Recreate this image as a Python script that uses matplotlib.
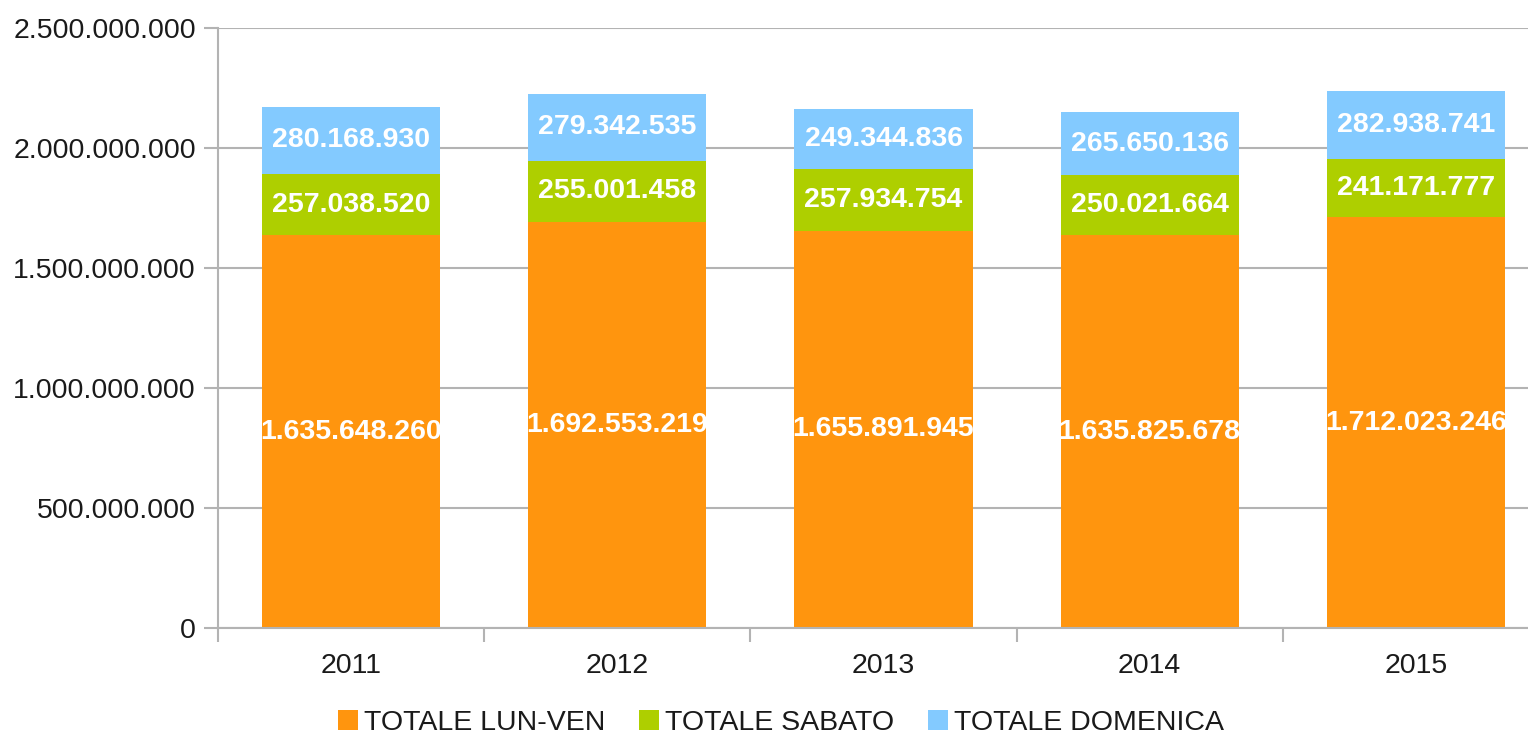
import matplotlib.pyplot as plt
from matplotlib.ticker import FuncFormatter, FixedLocator

plt.rcParams['font.family'] = ['Liberation Sans', 'DejaVu Sans']

years = ["2011", "2012", "2013", "2014", "2015"]
lun_ven = [1635648260, 1692553219, 1655891945, 1635825678, 1712023246]
sabato = [257038520, 255001458, 257934754, 250021664, 241171777]
domenica = [280168930, 279342535, 249344836, 265650136, 282938741]

series_names = ["TOTALE LUN-VEN", "TOTALE SABATO", "TOTALE DOMENICA"]
colors = ["#FF950E", "#AECF00", "#83CAFF"]


def dots(v, pos=None):
    # thousands separator as dot (italian style)
    return "{:,.0f}".format(v).replace(",", ".")


fig = plt.figure(figsize=(15.28, 7.38), dpi=100)
ax = fig.add_axes([218/1528, 110/738, (1549-218)/1528, 600/738])

x = list(range(len(years)))
bottom = [0]*len(years)
for vals, name, c in zip([lun_ven, sabato, domenica], series_names, colors):
    bars = ax.bar(x, vals, 0.67, bottom=bottom, color=c, label=name, zorder=2)
    ax.bar_label(bars, labels=[dots(v) for v in vals], label_type="center",
                 color="white", fontsize=20.5, fontweight="bold")
    bottom = [b + v for b, v in zip(bottom, vals)]

ax.set_xlim(-0.5, 4.5)
ax.set_ylim(0, 2500000000)
ax.set_yticks([0, 500000000, 1000000000, 1500000000, 2000000000, 2500000000])
ax.yaxis.set_major_formatter(FuncFormatter(dots))
ax.yaxis.grid(True, color="#b3b3b3", linewidth=1.5, zorder=0)
ax.set_axisbelow(True)

ax.set_xticks(x)
ax.set_xticklabels(years)
ax.xaxis.set_minor_locator(FixedLocator([i - 0.5 for i in range(len(years)+1)]))
ax.tick_params(axis="x", which="major", length=0, pad=18, labelsize=20.5, labelcolor="#1a1a1a")
ax.tick_params(axis="x", which="minor", length=10, width=1.5, color="#b3b3b3")
ax.tick_params(axis="y", length=10, width=1.5, color="#b3b3b3", pad=6, labelsize=20.5, labelcolor="#1a1a1a")

for s in ["top", "right"]:
    ax.spines[s].set_visible(False)
for s in ["left", "bottom"]:
    ax.spines[s].set_color("#b3b3b3")
    ax.spines[s].set_linewidth(1.5)

handles, labels = ax.get_legend_handles_labels()
fig.legend(handles, labels, loc="center", bbox_to_anchor=(781/1528, 1 - 723/738), ncol=3,
           frameon=False, fontsize=20.5, handlelength=0.7, handleheight=0.7,
           handletextpad=0.2, columnspacing=1.2, labelcolor="#1a1a1a")

fig.savefig("out.png", dpi=100)
